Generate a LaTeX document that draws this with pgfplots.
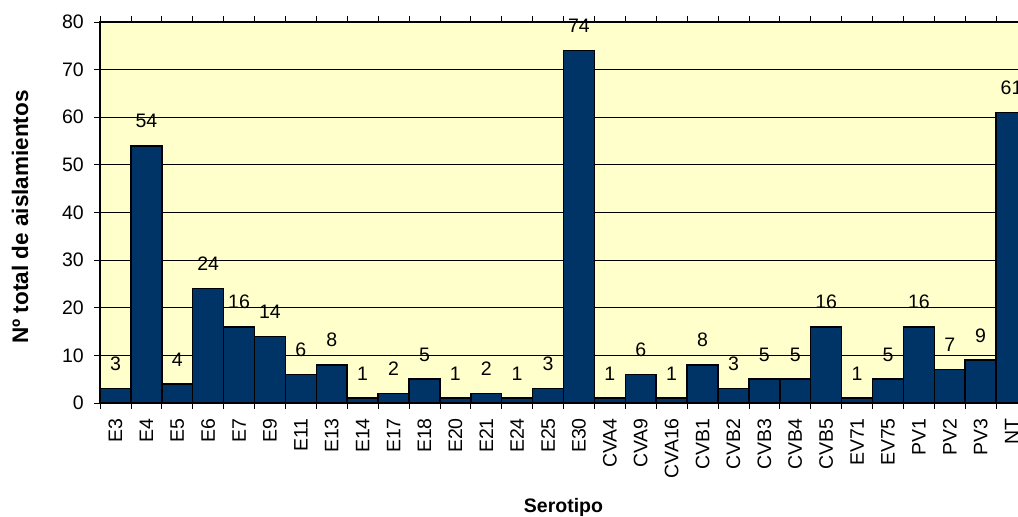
\documentclass[border=0pt]{standalone}
\usepackage{fontspec}
\setmainfont{Liberation Sans}
\usepackage{pgfplots}
\pgfplotsset{compat=1.18}
\definecolor{barblue}{RGB}{0,51,102}
\definecolor{bgyellow}{RGB}{255,255,204}
\begin{document}
\begin{tikzpicture}
\useasboundingbox (0,0) rectangle (1018bp,517bp);
\clip (0,0) rectangle (1018bp,517bp);
\begin{axis}[
  at={(100bp,114bp)}, anchor=south west,
  scale only axis, width=927bp, height=381bp,
  xmin=-0.5, xmax=29.5, ymin=0, ymax=80,
  ytick={0,10,...,80},
  xtick={0,...,29},
  xticklabels={E3,E4,E5,E6,E7,E9,E11,E13,E14,E17,E18,E20,E21,E24,E25,E30,CVA4,CVA9,CVA16,CVB1,CVB2,CVB3,CVB4,CVB5,EV71,EV75,PV1,PV2,PV3,NT},
  minor xtick={-0.5,0.5,...,29.5},
  major x tick style={draw=none},
  tick align=outside,
  major tick length=6bp, minor tick length=6bp,
  every tick/.style={black, line width=0.8bp},
  x tick label style={rotate=90, anchor=east, font=\fontsize{19.5bp}{21bp}\selectfont, inner sep=0pt, xshift=-9bp},
  y tick label style={font=\fontsize{19.5bp}{21bp}\selectfont, inner sep=0pt, xshift=-10bp},
  /pgf/number format/assume math mode=true,
  ymajorgrids, grid style={black, line width=0.8bp},
  axis line style={black, line width=1.8bp},
  axis background/.style={fill=bgyellow},
  xlabel={\textbf{Serotipo}},
  ylabel={\textbf{Nº total de aislamientos}},
  xlabel style={font=\fontsize{19.5bp}{21bp}\selectfont, at={(axis description cs:0.5,-0.275)}, anchor=center},
  ylabel style={font=\fontsize{22.5bp}{24bp}\selectfont, at={(axis description cs:-0.0863,0.488)}, anchor=center},
  nodes near coords,
  every node near coord/.style={font=\fontsize{19.5bp}{21bp}\selectfont, black, anchor=south, inner sep=0pt, yshift=17bp},
  clip=false,
]
\addplot[ybar, bar width=1, fill=barblue, draw=black, line width=1.5bp] coordinates {
(0,3) (1,54) (2,4) (3,24) (4,16) (5,14) (6,6) (7,8) (8,1) (9,2)
(10,5) (11,1) (12,2) (13,1) (14,3) (15,74) (16,1) (17,6) (18,1) (19,8)
(20,3) (21,5) (22,5) (23,16) (24,1) (25,5) (26,16) (27,7) (28,9) (29,61)
};
\end{axis}
\end{tikzpicture}
\end{document}
